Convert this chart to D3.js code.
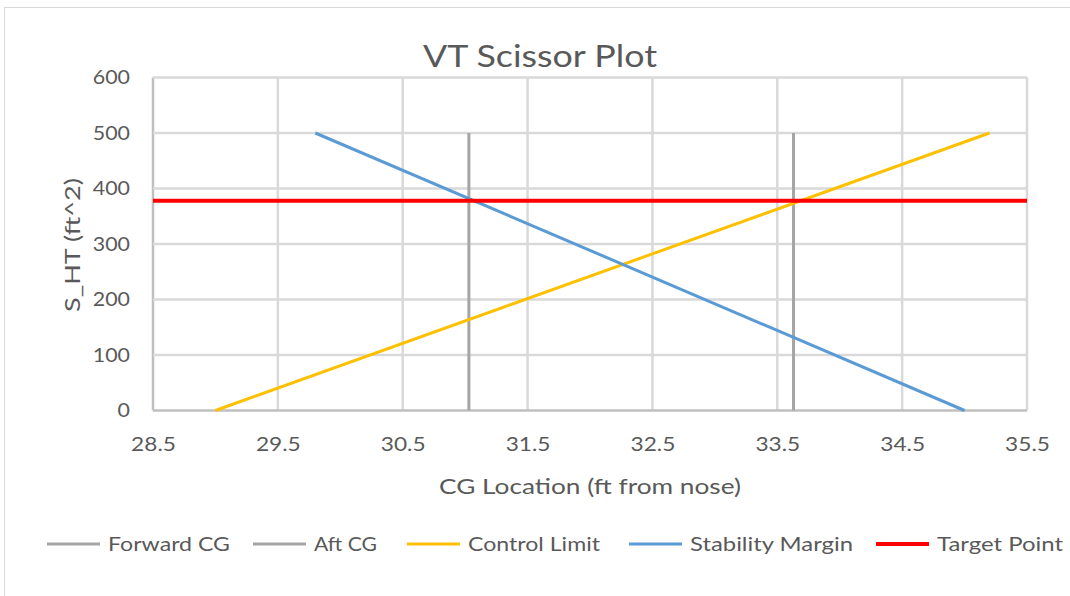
<!DOCTYPE html>
<html>
<head>
<meta charset="utf-8">
<script src="https://cdn.jsdelivr.net/npm/d3@7"></script>
<style>
  html, body { margin: 0; padding: 0; background: #fff; }
  svg { display: block; }
  text { font-family: Lato, "Open Sans", sans-serif; fill: #595959; }
</style>
</head>
<body>
<svg id="chart" width="1070" height="596"></svg>
<script>
// Scissor plot data: CG limits, control / stability lines and the target tail area
const xTicks = [28.5, 29.5, 30.5, 31.5, 32.5, 33.5, 34.5, 35.5];
const yTicks = [0, 100, 200, 300, 400, 500, 600];

const forwardCG = [[31.03, 0], [31.03, 500]];
const aftCG = [[33.63, 0], [33.63, 500]];
const controlLimit = [[29.0, 0], [35.2, 500]];
const stabilityMargin = [[29.8, 500], [35.0, 0]];
const targetPoint = [[28.5, 378], [35.5, 378]];

const seriesNames = ["Forward CG", "Aft CG", "Control Limit", "Stability Margin", "Target Point"];
const seriesColors = ["#a5a5a5", "#a5a5a5", "#ffc000", "#5b9bd5", "#ff0000"];
const seriesWidths = [3, 3, 3, 3, 4];
const seriesData = [forwardCG, aftCG, controlLimit, stabilityMargin, targetPoint];

const svg = d3.select("#chart");

// width of a label set in the chart's wide face
const digitW = 12.4, dotW = 7.6;
const labelWidth = s => [...s].reduce((w, c) => w + (c === "." ? dotW : digitW), 0);

// chart frame
svg.append("rect")
  .attr("x", 4.5).attr("y", 7.5)
  .attr("width", 1080).attr("height", 600)
  .attr("fill", "#fff").attr("stroke", "#d9d9d9").attr("stroke-width", 1);

const plot = { left: 153, right: 1027, top: 77.5, bottom: 410.5 };

const x = d3.scaleLinear().domain([28.5, 35.5]).range([plot.left, plot.right]);
const y = d3.scaleLinear().domain([0, 600]).range([plot.bottom, plot.top]);

// gridlines
svg.append("g")
  .selectAll("line")
  .data(xTicks)
  .join("line")
  .attr("x1", d => x(d)).attr("x2", d => x(d))
  .attr("y1", plot.top).attr("y2", plot.bottom)
  .attr("stroke", d => d === 28.5 ? "#bfbfbf" : "#d9d9d9")
  .attr("stroke-width", 2.5);

svg.append("g")
  .selectAll("line")
  .data(yTicks)
  .join("line")
  .attr("x1", plot.left).attr("x2", plot.right)
  .attr("y1", d => y(d)).attr("y2", d => y(d))
  .attr("stroke", d => d === 0 ? "#bfbfbf" : "#d9d9d9")
  .attr("stroke-width", 2.5);

// axes (labels only; the axis lines are the darker gridlines above)
const xFmt = d3.format(".1f");
const xAxis = svg.append("g")
  .attr("transform", `translate(0,${plot.bottom})`)
  .call(d3.axisBottom(x).tickValues(xTicks).tickFormat(xFmt).tickSize(0).tickPadding(26));
xAxis.select(".domain").remove();
xAxis.selectAll("text")
  .style("font-size", "20px").style("font-family", "Lato, sans-serif")
  .attr("fill", "#595959")
  .attr("textLength", d => labelWidth(xFmt(d)))
  .attr("lengthAdjust", "spacingAndGlyphs");

const yAxis = svg.append("g")
  .attr("transform", `translate(${plot.left},0)`)
  .call(d3.axisLeft(y).tickValues(yTicks).tickSize(0).tickPadding(23));
yAxis.select(".domain").remove();
yAxis.selectAll("text")
  .style("font-size", "20px").style("font-family", "Lato, sans-serif")
  .attr("fill", "#595959")
  .attr("textLength", d => labelWidth(String(d)))
  .attr("lengthAdjust", "spacingAndGlyphs");

// series lines
const line = d3.line().x(d => x(d[0])).y(d => y(d[1]));
svg.append("g")
  .selectAll("path")
  .data(seriesData)
  .join("path")
  .attr("d", line)
  .attr("fill", "none")
  .attr("stroke", (d, i) => seriesColors[i])
  .attr("stroke-width", (d, i) => seriesWidths[i]);

// title and axis titles
svg.append("text")
  .attr("x", 540).attr("y", 67)
  .attr("text-anchor", "middle")
  .attr("textLength", 234).attr("lengthAdjust", "spacingAndGlyphs")
  .style("font-size", "31px")
  .text("VT Scissor Plot");

svg.append("text")
  .attr("transform", "translate(80,245) rotate(-90)")
  .attr("text-anchor", "middle")
  .attr("textLength", 134).attr("lengthAdjust", "spacingAndGlyphs")
  .style("font-size", "21px")
  .text("S_HT (ft^2)");

svg.append("text")
  .attr("x", 590).attr("y", 494)
  .attr("text-anchor", "middle")
  .attr("textLength", 302).attr("lengthAdjust", "spacingAndGlyphs")
  .style("font-size", "21px")
  .text("CG Location (ft from nose)");

// legend
const legendX = [47, 253, 407, 629, 876];
const legendTextW = [122, 63, 132, 163, 126];
const legend = svg.append("g");
seriesNames.forEach((name, i) => {
  const g = legend.append("g").attr("transform", `translate(${legendX[i]},544)`);
  g.append("line")
    .attr("x1", 0).attr("x2", 53)
    .attr("stroke", seriesColors[i])
    .attr("stroke-width", seriesWidths[i]);
  g.append("text")
    .attr("x", 61).attr("y", 7)
    .attr("textLength", legendTextW[i]).attr("lengthAdjust", "spacingAndGlyphs")
    .style("font-size", "20px")
    .text(name);
});
</script>
</body>
</html>
